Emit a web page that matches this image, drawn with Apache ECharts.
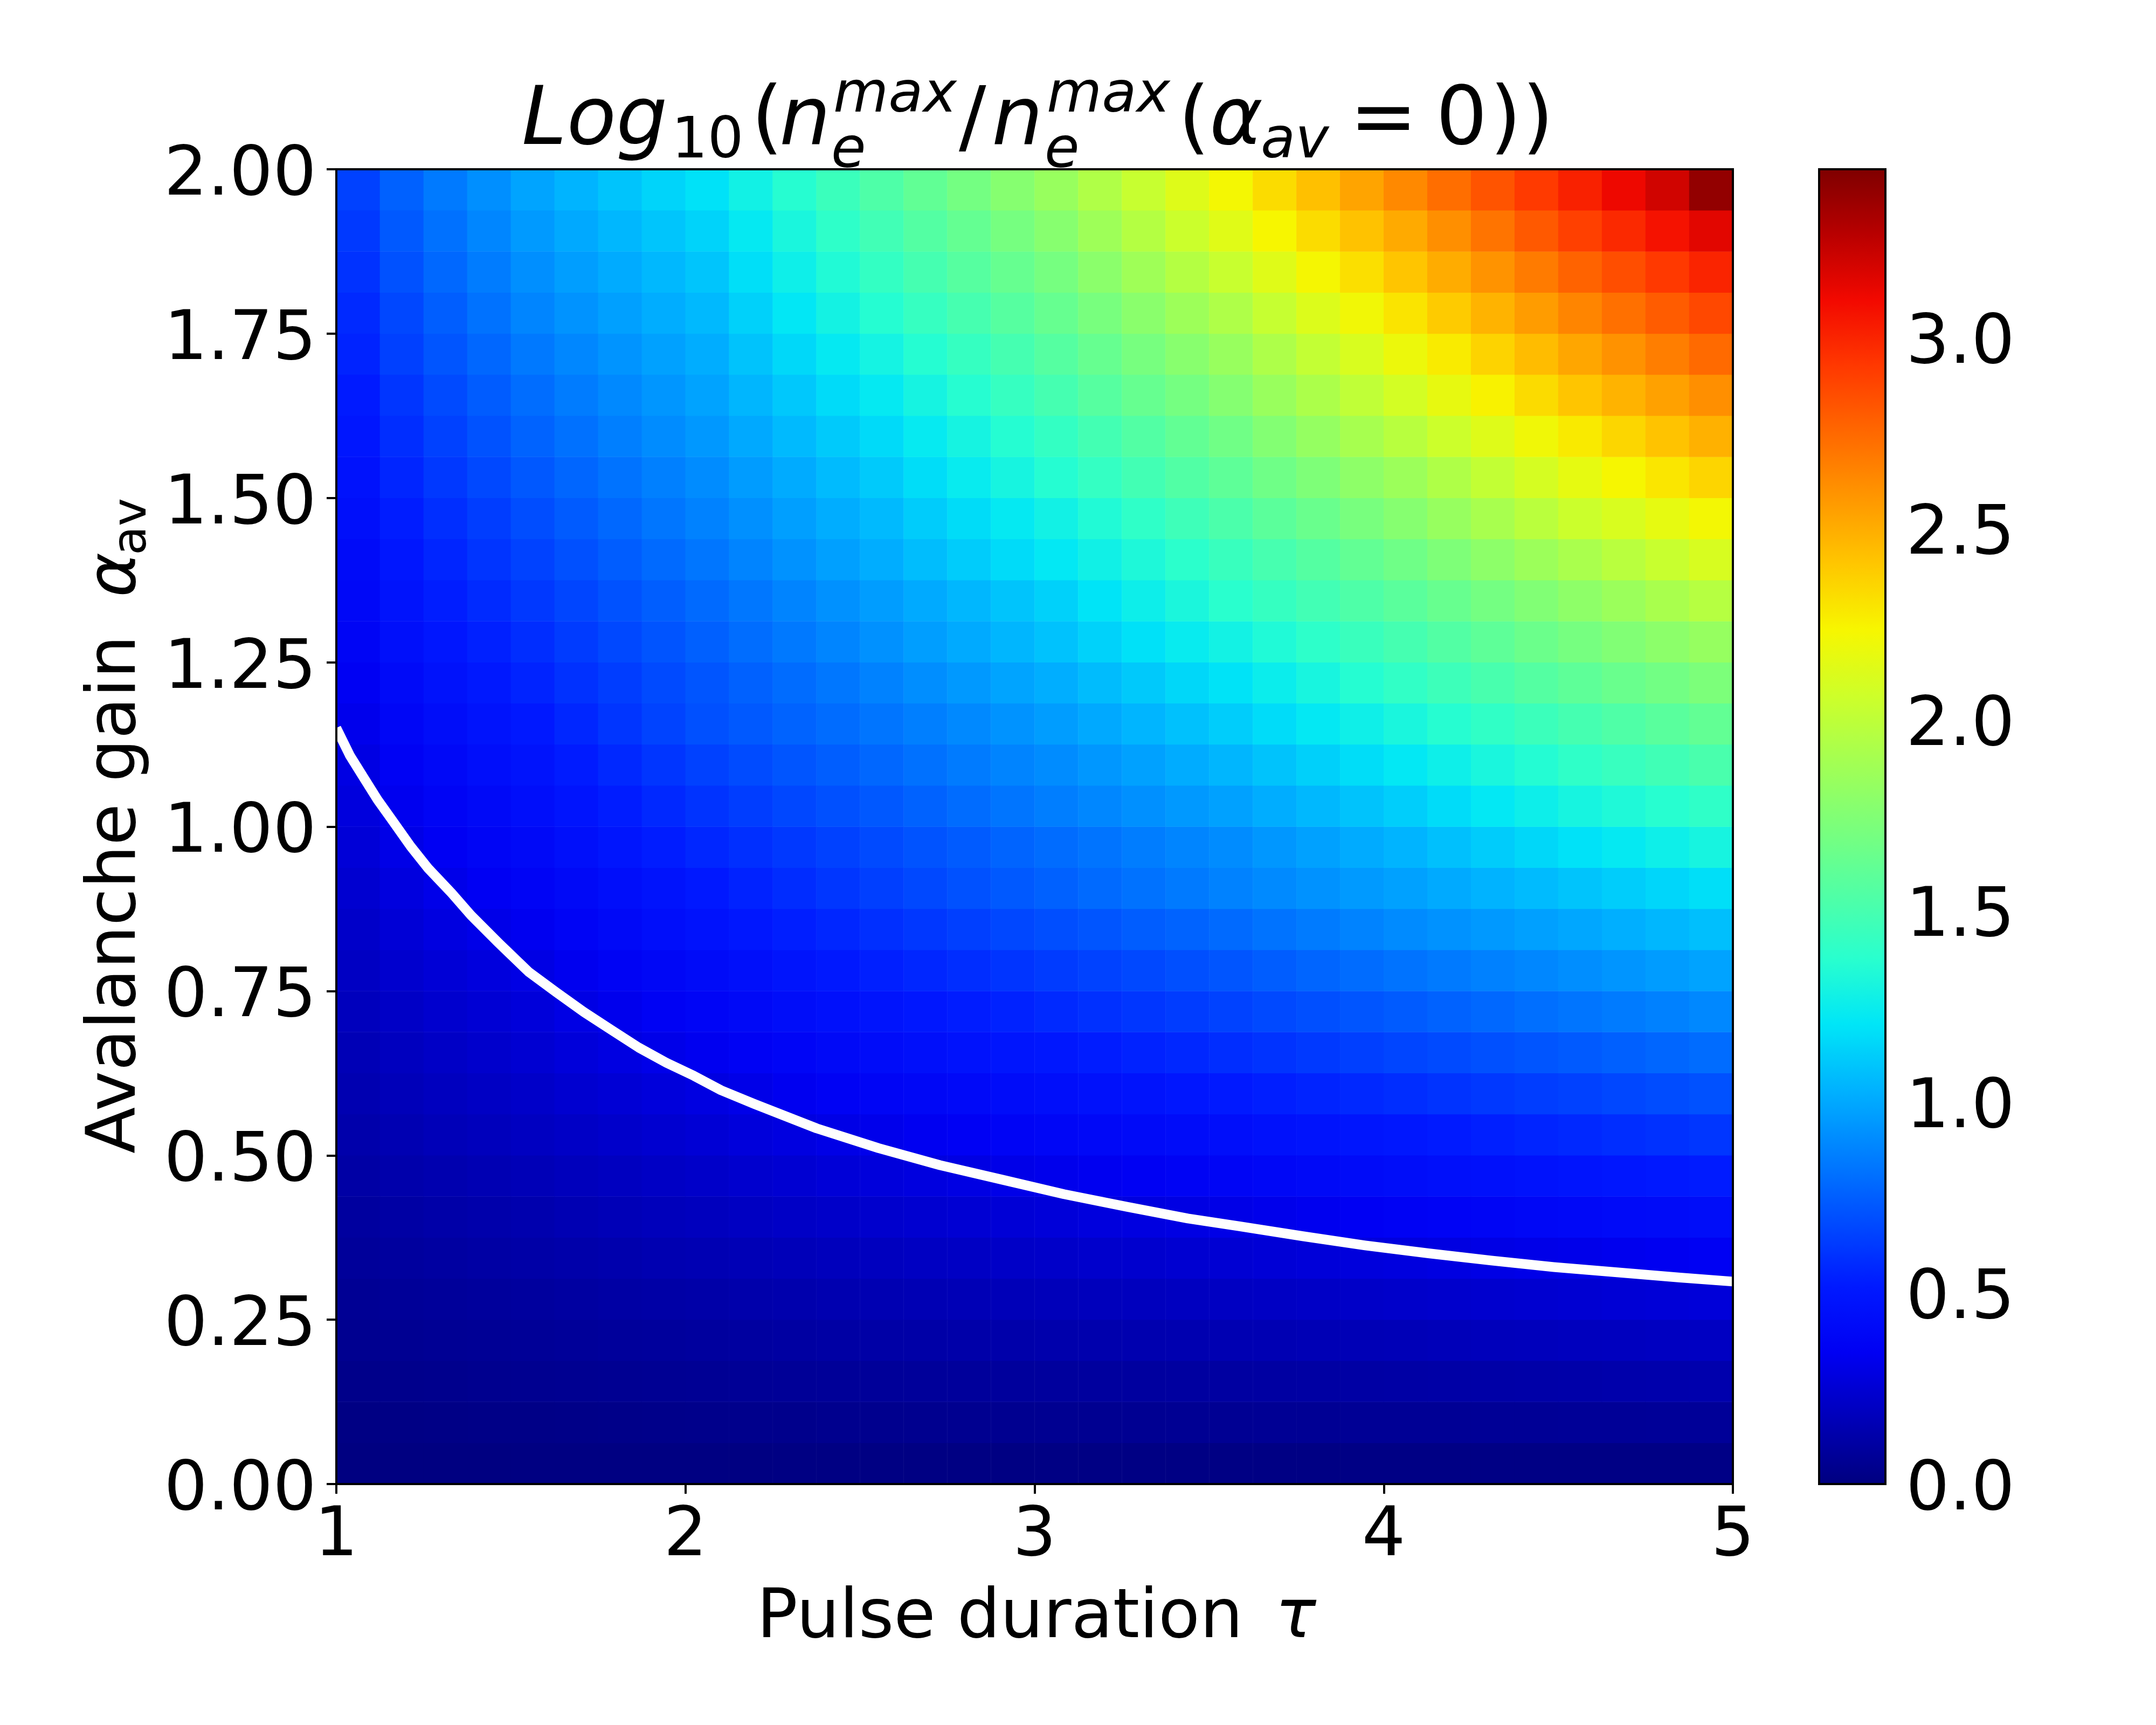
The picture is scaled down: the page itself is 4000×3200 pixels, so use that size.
<!DOCTYPE html>
<html>
<head>
<meta charset="utf-8">
<title>Avalanche gain map</title>
<script src="https://cdn.jsdelivr.net/npm/echarts@6/dist/echarts.min.js"></script>
<style>
html, body { margin: 0; padding: 0; background: #fff; }
#chart { width: 4000px; height: 3200px; }
</style>
</head>
<body>
<div id="chart"></div>
<script>
// cell centres of the colour map
const tauCells = [1.0625,1.1875,1.3125,1.4375,1.5625,1.6875,1.8125,1.9375,2.0625,2.1875,2.3125,2.4375,2.5625,2.6875,2.8125,2.9375,3.0625,3.1875,3.3125,3.4375,3.5625,3.6875,3.8125,3.9375,4.0625,4.1875,4.3125,4.4375,4.5625,4.6875,4.8125,4.9375];
const alphaCells = [0.03125,0.09375,0.15625,0.21875,0.28125,0.34375,0.40625,0.46875,0.53125,0.59375,0.65625,0.71875,0.78125,0.84375,0.90625,0.96875,1.03125,1.09375,1.15625,1.21875,1.28125,1.34375,1.40625,1.46875,1.53125,1.59375,1.65625,1.71875,1.78125,1.84375,1.90625,1.96875];

// log10 ratio, one row per alpha (bottom row first)
// rough estimate: judged from contour and edge colours at 9 columns, the columns between filled in by hand
const fieldRows = [
[.005,.006,.007,.007,.008,.008,.009,.009,.01,.01,.011,.011,.012,.012,.013,.013,.014,.014,.015,.015,.016,.016,.016,.017,.017,.017,.018,.018,.018,.019,.019,.02],
[.016,.019,.021,.023,.025,.028,.03,.033,.035,.038,.04,.043,.045,.047,.049,.05,.052,.054,.056,.058,.06,.061,.063,.064,.065,.066,.068,.069,.07,.072,.073,.075],
[.032,.038,.042,.046,.05,.054,.057,.06,.063,.067,.071,.074,.078,.081,.084,.087,.09,.093,.096,.099,.102,.105,.108,.111,.114,.117,.12,.123,.126,.129,.132,.135],
[.05,.057,.062,.066,.07,.076,.082,.087,.093,.099,.104,.11,.115,.119,.124,.128,.132,.137,.141,.146,.15,.154,.159,.163,.167,.172,.177,.181,.186,.191,.195,.2],
[.063,.073,.08,.087,.093,.101,.109,.116,.123,.13,.137,.144,.15,.156,.163,.169,.175,.181,.188,.194,.2,.206,.211,.217,.222,.228,.235,.241,.247,.254,.26,.267],
[.08,.093,.102,.11,.118,.128,.137,.147,.155,.164,.173,.182,.19,.198,.205,.213,.22,.228,.235,.243,.25,.259,.267,.275,.283,.292,.301,.31,.318,.328,.338,.348],
[.096,.11,.122,.131,.14,.153,.165,.177,.188,.199,.21,.22,.23,.24,.249,.259,.268,.278,.288,.297,.307,.32,.332,.344,.356,.367,.378,.389,.4,.411,.421,.432],
[.113,.13,.143,.154,.165,.18,.194,.208,.22,.234,.247,.26,.272,.285,.298,.31,.322,.336,.35,.364,.377,.391,.404,.417,.43,.444,.457,.47,.482,.496,.51,.524],
[.13,.151,.168,.181,.195,.211,.226,.241,.255,.272,.288,.304,.32,.337,.353,.37,.385,.4,.415,.429,.443,.459,.475,.49,.505,.521,.537,.552,.567,.583,.598,.613],
[.147,.171,.189,.205,.22,.239,.256,.273,.29,.312,.334,.355,.376,.393,.409,.425,.44,.459,.477,.495,.513,.532,.55,.567,.585,.602,.62,.636,.652,.67,.688,.705],
[.164,.191,.211,.228,.245,.269,.292,.313,.335,.358,.381,.403,.425,.446,.466,.486,.505,.525,.545,.564,.583,.604,.624,.644,.663,.681,.7,.718,.735,.755,.775,.795],
[.183,.212,.233,.252,.27,.3,.327,.355,.38,.406,.431,.456,.48,.503,.526,.548,.57,.592,.614,.635,.655,.677,.698,.719,.74,.762,.784,.805,.825,.847,.868,.89],
[.203,.235,.259,.279,.3,.332,.362,.392,.42,.45,.48,.508,.535,.56,.584,.607,.63,.653,.676,.698,.72,.746,.771,.796,.82,.843,.866,.888,.91,.934,.957,.98],
[.22,.258,.287,.312,.336,.372,.406,.439,.47,.501,.532,.561,.59,.617,.644,.67,.695,.72,.744,.767,.79,.819,.847,.874,.9,.925,.949,.972,.995,1.022,1.049,1.075],
[.24,.283,.315,.343,.37,.408,.443,.478,.51,.545,.58,.613,.645,.675,.705,.733,.76,.789,.817,.844,.87,.897,.924,.95,.975,1.005,1.035,1.063,1.09,1.12,1.15,1.18],
[.26,.308,.344,.375,.405,.447,.487,.525,.56,.591,.622,.652,.68,.71,.739,.768,.795,.824,.852,.879,.905,.94,.974,1.008,1.04,1.079,1.118,1.155,1.19,1.227,1.264,1.3],
[.28,.333,.373,.406,.44,.485,.526,.567,.605,.638,.67,.701,.73,.763,.795,.826,.855,.886,.917,.947,.975,1.014,1.052,1.089,1.125,1.171,1.217,1.26,1.3,1.334,1.367,1.4],
[.298,.356,.401,.438,.475,.522,.566,.609,.65,.684,.718,.75,.78,.813,.845,.876,.905,.941,.976,1.011,1.045,1.089,1.132,1.174,1.215,1.263,1.311,1.356,1.4,1.437,1.474,1.51],
[.322,.384,.431,.472,.51,.561,.609,.656,.7,.733,.765,.796,.825,.86,.894,.928,.96,1.002,1.042,1.082,1.12,1.171,1.219,1.268,1.315,1.362,1.407,1.452,1.495,1.536,1.576,1.615],
[.348,.415,.465,.508,.55,.596,.638,.68,.72,.759,.796,.834,.87,.909,.947,.984,1.02,1.065,1.109,1.153,1.195,1.251,1.305,1.359,1.41,1.459,1.507,1.555,1.6,1.643,1.684,1.725],
[.375,.444,.497,.541,.585,.631,.674,.715,.755,.798,.84,.881,.92,.963,1.004,1.045,1.085,1.137,1.187,1.237,1.285,1.34,1.392,1.445,1.495,1.548,1.6,1.651,1.7,1.746,1.79,1.835],
[.4,.473,.528,.574,.62,.666,.708,.75,.79,.834,.877,.92,.96,1.005,1.049,1.093,1.135,1.197,1.257,1.317,1.375,1.428,1.48,1.53,1.58,1.637,1.692,1.747,1.8,1.856,1.911,1.965],
[.42,.498,.556,.606,.655,.702,.747,.789,.83,.878,.924,.97,1.015,1.067,1.117,1.167,1.215,1.274,1.33,1.386,1.44,1.5,1.557,1.615,1.67,1.734,1.795,1.857,1.915,1.978,2.04,2.1],
[.445,.526,.587,.639,.69,.739,.784,.829,.87,.919,.967,1.014,1.06,1.117,1.172,1.227,1.28,1.342,1.402,1.462,1.52,1.584,1.645,1.707,1.765,1.839,1.91,1.982,2.05,2.108,2.164,2.22],
[.47,.556,.621,.675,.73,.777,.821,.864,.905,.958,1.01,1.061,1.11,1.175,1.238,1.3,1.36,1.422,1.482,1.542,1.6,1.668,1.733,1.798,1.86,1.939,2.016,2.093,2.165,2.23,2.292,2.355],
[.497,.585,.652,.709,.765,.814,.859,.904,.945,1.002,1.057,1.112,1.165,1.231,1.295,1.359,1.42,1.486,1.55,1.614,1.675,1.753,1.828,1.903,1.975,2.054,2.131,2.208,2.28,2.35,2.418,2.485],
[.52,.612,.682,.741,.8,.849,.894,.938,.98,1.044,1.105,1.166,1.225,1.295,1.363,1.43,1.495,1.564,1.63,1.696,1.76,1.845,1.926,2.007,2.085,2.17,2.251,2.332,2.41,2.478,2.544,2.61],
[.55,.646,.718,.779,.84,.887,.931,.974,1.015,1.087,1.158,1.227,1.29,1.36,1.428,1.495,1.56,1.633,1.703,1.773,1.84,1.931,2.018,2.106,2.19,2.277,2.361,2.445,2.525,2.6,2.672,2.745],
[.57,.672,.75,.815,.88,.927,.971,1.014,1.055,1.134,1.211,1.288,1.36,1.43,1.498,1.565,1.63,1.709,1.785,1.862,1.935,2.03,2.121,2.212,2.3,2.39,2.476,2.562,2.645,2.722,2.796,2.87],
[.6,.704,.783,.849,.915,.964,1.009,1.053,1.095,1.18,1.264,1.342,1.42,1.493,1.563,1.633,1.7,1.788,1.873,1.958,2.04,2.136,2.229,2.32,2.41,2.504,2.594,2.684,2.77,2.848,2.924,3],
[.625,.732,.814,.882,.95,1.001,1.049,1.096,1.14,1.227,1.311,1.395,1.475,1.552,1.625,1.699,1.77,1.866,1.959,2.052,2.14,2.236,2.329,2.421,2.51,2.611,2.709,2.807,2.9,2.983,3.064,3.145],
[.65,.76,.844,.915,.985,1.04,1.092,1.143,1.19,1.278,1.363,1.448,1.53,1.611,1.689,1.767,1.84,1.94,2.036,2.133,2.225,2.33,2.431,2.533,2.63,2.729,2.824,2.919,3.01,3.11,3.2,3.38]
];

const contourTau = [1,1.039,1.079,1.118,1.157,1.213,1.264,1.33,1.386,1.465,1.551,1.63,1.709,1.787,1.866,1.945,2.024,2.102,2.198,2.376,2.553,2.729,2.907,3.084,3.262,3.439,3.587,3.768,3.947,4.128,4.308,4.487,4.668,4.849,5];
const contourAlpha = [1.15,1.108,1.074,1.041,1.012,.97,.936,.899,.865,.823,.779,.748,.718,.691,.664,.641,.621,.599,.578,.541,.511,.485,.463,.441,.422,.404,.392,.377,.363,.351,.34,.33,.322,.314,.308];

const barTicks = [0,.5,1,1.5,2,2.5,3];
const barMax = 3.44;

// jet, sampled every 0.05
const jet = ['rgb(0,0,127)','rgb(0,0,185)','rgb(0,0,243)','rgb(0,25,255)','rgb(0,76,255)','rgb(0,127,255)','rgb(0,178,255)','rgb(0,230,247)','rgb(41,255,206)','rgb(82,255,164)','rgb(123,255,123)','rgb(164,255,82)','rgb(206,255,41)','rgb(247,246,0)','rgb(255,198,0)','rgb(255,151,0)','rgb(255,104,0)','rgb(255,57,0)','rgb(243,9,0)','rgb(185,0,0)','rgb(127,0,0)'];

const FONT = 'DejaVu Sans';
const plot = { left: 624, top: 314, width: 2591, height: 2439 };
const bar = { left: 3375, top: 314, width: 123, height: 2439 };

// text placed by its baseline
const MID = 0.262;
function word(text, x, base, size, italic) {
    return {
        type: 'text', x: x, y: base - MID * size, silent: true, z: 20,
        style: { text: text, fontFamily: FONT, fontSize: size, fontStyle: italic ? 'italic' : 'normal', fill: '#000', align: 'left', verticalAlign: 'middle' }
    };
}
function sideWord(text, base, y, size, italic) {
    return {
        type: 'text', x: base - MID * size, y: y, rotation: Math.PI / 2, silent: true, z: 20,
        style: { text: text, fontFamily: FONT, fontSize: size, fontStyle: italic ? 'italic' : 'normal', fill: '#000', align: 'left', verticalAlign: 'middle' }
    };
}

const labels = [
    word('Log', 968, 267, 150, true),
    word('10', 1246, 292, 105, false),
    word('(', 1394, 267, 150, false),
    word('n', 1446, 267, 150, true),
    word('max', 1546, 207, 105, true),
    word('e', 1542, 310, 105, true),
    word('/', 1779, 267, 150, false),
    word('n', 1840, 267, 150, true),
    word('max', 1942, 207, 105, true),
    word('e', 1938, 310, 105, true),
    word('(', 2186, 267, 150, false),
    word('α', 2244, 267, 150, true),
    word('av', 2339, 292, 105, true),
    word('=', 2504, 267, 150, false),
    word('0', 2664, 267, 150, false),
    word(')', 2764, 267, 150, false),
    word(')', 2824, 267, 150, false),
    word('Pulse duration ', 1404, 3037, 126, false),
    word('τ', 2366, 3037, 126, true),
    sideWord('Avalanche gain ', 250, 2140, 126, false),
    sideWord('α', 250, 1108, 126, true),
    sideWord('av', 270, 1030, 88, false)
];

const cells = [];
fieldRows.forEach(function (row, j) {
    row.forEach(function (v, i) {
        cells.push([i, j, v]);
    });
});
const contour = contourTau.map(function (t, i) { return [t, contourAlpha[i]]; });

const tickStyle = { show: true, length: 18, lineStyle: { color: '#000', width: 4 } };
const labelStyle = { color: '#000', fontFamily: FONT, fontSize: 127 };

const options = {
    animation: false,
    backgroundColor: '#fff',
    grid: [
        Object.assign({}, plot),
        Object.assign({ show: true, backgroundColor: 'transparent', borderColor: '#000', borderWidth: 4, z: 10 }, plot),
        Object.assign({ show: true, backgroundColor: 'transparent', borderColor: '#000', borderWidth: 4, z: 10 }, bar)
    ],
    xAxis: [
        { gridIndex: 0, type: 'category', data: tauCells, show: false },
        {
            gridIndex: 1, type: 'value', min: 1, max: 5, interval: 1, splitLine: { show: false },
            axisLine: { show: false }, axisTick: tickStyle,
            axisLabel: Object.assign({ margin: 36 }, labelStyle)
        },
        { gridIndex: 2, type: 'value', show: false, min: 0, max: 1 }
    ],
    yAxis: [
        { gridIndex: 0, type: 'category', data: alphaCells, show: false },
        {
            gridIndex: 1, type: 'value', min: 0, max: 2, interval: .25, splitLine: { show: false },
            axisLine: { show: false }, axisTick: tickStyle,
            // top-aligned with a short line box, which sits the digits a little below the tick
            axisLabel: Object.assign({ margin: 37, verticalAlign: 'top', lineHeight: 28, formatter: function (v) { return v.toFixed(2); } }, labelStyle)
        },
        {
            gridIndex: 2, type: 'value', position: 'right', min: 0, max: barMax, splitLine: { show: false },
            axisLine: { show: false },
            axisTick: Object.assign({ customValues: barTicks }, tickStyle),
            axisLabel: Object.assign({ margin: 38, verticalAlign: 'top', lineHeight: 28, customValues: barTicks, formatter: function (v) { return v.toFixed(1); } }, labelStyle)
        }
    ],
    visualMap: {
        type: 'continuous', seriesIndex: 0, dimension: 2, min: 0, max: barMax,
        calculable: false, showLabel: false, text: ['', ''], hoverLink: false,
        left: bar.left, top: bar.top, itemWidth: bar.width, itemHeight: bar.height,
        padding: 0, inRange: { color: jet }
    },
    series: [
        { type: 'heatmap', xAxisIndex: 0, yAxisIndex: 0, data: cells, silent: true, progressive: 0 },
        {
            type: 'line', xAxisIndex: 1, yAxisIndex: 1, data: contour, symbol: 'none', silent: true, z: 5,
            lineStyle: { color: '#fff', width: 18, join: 'round' }
        }
    ],
    graphic: { elements: labels }
};

const E = echarts.init(document.getElementById('chart'));
E.setOption(options);
</script>
</body>
</html>
